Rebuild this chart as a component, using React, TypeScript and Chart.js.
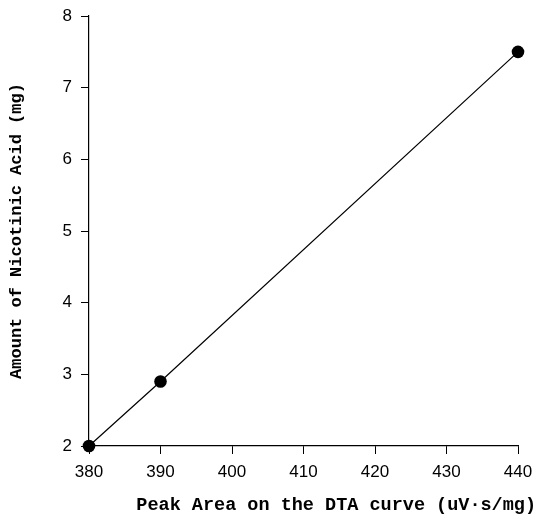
import React, { useEffect, useRef } from "react";
import { Chart, registerables } from "chart.js";

Chart.register(...registerables);

const peakArea = [380, 390, 440];
const nicotinicAcid = [2, 2.9, 7.5];
const xTitle = "Peak Area on the DTA curve (uV·s/mg)";
const yTitle = "Amount of Nicotinic Acid (mg)";

export default function App() {
  const ref = useRef<HTMLCanvasElement | null>(null);

  useEffect(() => {
    if (!ref.current) return;
    const tickFont = { family: "'Liberation Sans', Arial, sans-serif", size: 17 };
    const titleFamily = "'Liberation Mono', 'Courier New', monospace";
    const chart = new Chart(ref.current, {
      type: "scatter",
      data: {
        datasets: [
          {
            data: peakArea.map((x, i) => ({ x, y: nicotinicAcid[i] })),
            showLine: true,
            borderColor: "#000",
            borderWidth: 1.2,
            pointRadius: 6.3,
            pointHoverRadius: 6.3,
            pointBackgroundColor: "#000",
            pointBorderColor: "#000",
            pointBorderWidth: 0,
            clip: false,
          },
        ],
      },
      options: {
        animation: false,
        responsive: true,
        maintainAspectRatio: false,
        layout: { padding: { top: 16, right: 0, left: 0, bottom: 0 } },
        plugins: {
          legend: { display: false },
          tooltip: { enabled: false },
          title: {
            display: true,
            position: "bottom",
            align: "end",
            text: xTitle,
            color: "#000",
            font: { family: titleFamily, size: 18.5, weight: "bold", lineHeight: 1.2 },
            padding: { top: 2, bottom: 0 },
          },
        },
        scales: {
          x: {
            type: "linear",
            position: "bottom",
            min: 380,
            max: 440,
            afterFit: (s: any) => {
              s.height = 46.4 - 0.6;
              s.paddingLeft = 0;
              s.paddingRight = 0;
            },
            ticks: {
              stepSize: 10,
              color: "#000",
              font: tickFont,
              padding: 8,
            },
            grid: {
              display: true,
              drawOnChartArea: false,
              drawTicks: true,
              tickLength: 8,
              color: "#000",
              lineWidth: 1,
            },
            border: { display: true, color: "#000", width: 1.2 },
          },
          y: {
            type: "linear",
            position: "left",
            min: 2,
            max: 8,
            afterFit: (s: any) => {
              s.width = 89;
              s.paddingTop = 0;
              s.paddingBottom = 0;
            },
            ticks: {
              stepSize: 1,
              color: "#000",
              font: tickFont,
              padding: 9,
            },
            grid: {
              display: true,
              drawOnChartArea: false,
              drawTicks: true,
              tickLength: 8,
              color: "#000",
              lineWidth: 1,
            },
            border: { display: true, color: "#000", width: 1.2 },
            title: {
              display: true,
              text: yTitle,
              color: "#000",
              font: { family: titleFamily, size: 17, weight: "bold", lineHeight: 1.2 },
              padding: { top: 7, bottom: 0 },
            },
          },
          yRight: {
            type: "linear",
            position: "right",
            display: true,
            afterFit: (s: any) => {
              s.width = 18;
              s.paddingTop = 0;
              s.paddingBottom = 0;
            },
            ticks: { display: false },
            grid: { display: false, drawTicks: false },
            border: { display: false },
          },
        },
      },
    });
    return () => chart.destroy();
  }, []);

  return (
    <div style={{ position: "fixed", left: 0, top: 0, width: 536, height: 516, background: "#fff" }}>
      <canvas ref={ref} />
    </div>
  );
}
